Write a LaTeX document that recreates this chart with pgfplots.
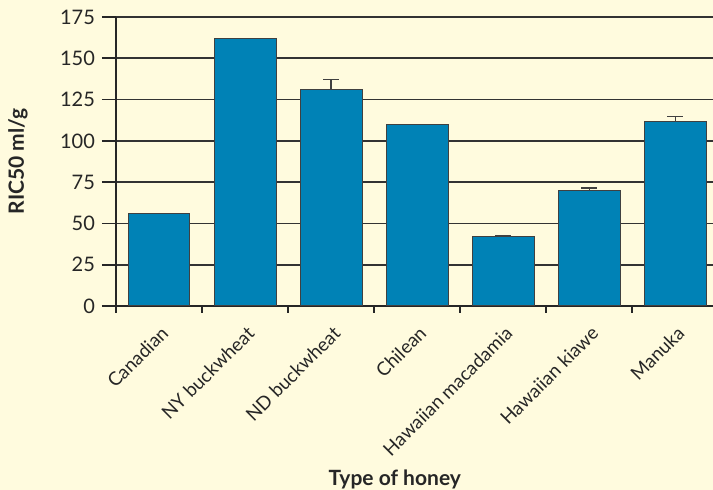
\documentclass[border=0pt]{standalone}
\usepackage{pgfplots}
\pgfplotsset{compat=1.18}
\usepackage{fontspec}
\setmainfont{Lato}
\definecolor{bg}{RGB}{255,251,222}
\definecolor{barblue}{RGB}{0,130,182}
\begin{document}
\begin{tikzpicture}[x=1pt,y=1pt]
\fill[bg] (0,0) rectangle (356.5,245);
\path[use as bounding box] (0,0) rectangle (356.5,245);
\begin{axis}[
  at={(58pt,92pt)}, anchor=south west,
  scale only axis, width=298.5pt, height=144.5pt,
  xmin=-0.5, xmax=6.44, ymin=0, ymax=175,
  ybar, bar width=0.72,
  axis lines=left,
  axis line style={-, line width=1pt, black!85},
  ytick={0,25,...,175},
  xtick={0,...,6},
  xticklabels={Canadian, NY buckwheat, ND buckwheat, Chilean, Hawaiian macadamia, Hawaiian kiawe, Manuka},
  minor xtick={-0.5,0.5,...,5.5},
  tick align=outside,
  major tick length=7pt,
  minor tick length=3.5pt,
  x tick style={draw=none},
  minor x tick style={draw=black!85, line width=1pt},
  y tick style={black!85, line width=0.8pt},
  ymajorgrids=true,
  major grid style={line width=0.8pt, black!80},
  /pgf/number format/assume math mode=true,
  tick label style={font=\fontsize{10}{12}\selectfont, text=black!85},
  xticklabel style={rotate=45, anchor=north east, xshift=2pt, yshift=1.5pt, font=\fontsize{9.4}{11}\selectfont},
  xlabel={Type of honey},
  ylabel={RIC50 ml/g},
  xlabel style={at={(axis description cs:0.467,-0.6)}, anchor=center, font=\bfseries\fontsize{10.5}{12}\selectfont, text=black!85},
  ylabel style={at={(axis description cs:-0.164,0.5)}, anchor=center, font=\bfseries\fontsize{10.5}{12}\selectfont, text=black!85},
]
\addplot[fill=barblue, draw=black!75, line width=0.5pt,
  error bars/.cd, y dir=plus, y explicit,
  error bar style={black!75, line width=0.6pt},
  error mark options={rotate=90, mark size=4pt, black!75, line width=0.6pt}]
  table[x=x, y=y, y error=e] {
x y e
0 56 0
1 162 0
2 131 6
3 110 0
4 42 0.5
5 70 1.5
6 112 2.5
};
\end{axis}
\end{tikzpicture}
\end{document}
